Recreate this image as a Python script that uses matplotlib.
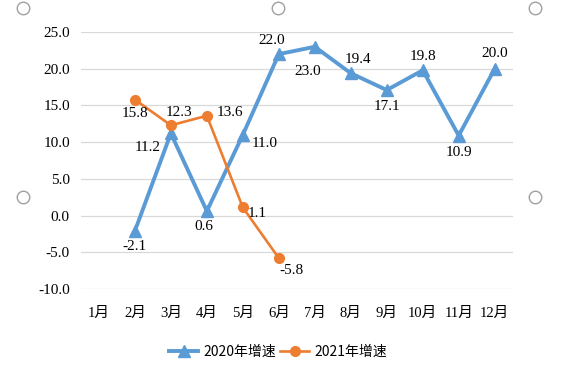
import numpy as np
import matplotlib.pyplot as plt
from matplotlib.lines import Line2D

months = ['1月', '2月', '3月', '4月', '5月', '6月', '7月', '8月', '9月', '10月', '11月', '12月']
growth_2020 = [np.nan, -2.1, 11.2, 0.6, 11.0, 22.0, 23.0, 19.4, 17.1, 19.8, 10.9, 20.0]
growth_2021 = [np.nan, 15.8, 12.3, 13.6, 1.1, -5.8, np.nan, np.nan, np.nan, np.nan, np.nan, np.nan]
yticks = [-10, -5, 0, 5, 10, 15, 20, 25]

# label offsets in points (dx, dy) per point
off_2020 = [None, (0, -11), (-17, -10), (-2, -11), (16, -6), (-5, 10), (-5, -18), (5, 10), (0, -12), (0, 10), (0, -12), (0, 11)]
off_2021 = [None, (0, -10), (6, 9), (17, 2), (10, -4), (9, -9)]

serif = ['Liberation Serif', 'Noto Sans CJK SC']
blue = '#5B9BD5'
orange = '#ED7D31'

fig = plt.figure(figsize=(5.78, 3.69), dpi=100)
ax = fig.add_axes([0.140, 0.217, 0.747, 0.696])
x = np.arange(len(months))

ax.plot(x, growth_2020, color=blue, lw=2.8, marker='^', ms=8.5, label='2020年增速', zorder=3)
ax.plot(x, growth_2021, color=orange, lw=1.9, marker='o', ms=7, label='2021年增速', zorder=4)

for i, v in enumerate(growth_2020):
    if off_2020[i] is not None:
        ax.annotate(f'{v:.1f}', (i, v), xytext=off_2020[i], textcoords='offset points',
                    ha='center', va='center', fontsize=11, family=serif, zorder=5)
for i, v in enumerate(growth_2021):
    if i < len(off_2021) and off_2021[i] is not None:
        ax.annotate(f'{v:.1f}', (i, v), xytext=off_2021[i], textcoords='offset points',
                    ha='center', va='center', fontsize=11, family=serif, zorder=5)

ax.set_xlim(-0.5, 11.5)
ax.set_ylim(-10, 25)
ax.set_yticks(yticks)
ax.set_yticklabels([f'{t:.1f}' for t in yticks], family=serif, fontsize=11)
ax.set_xticks(x)
ax.set_xticklabels(months, family=serif, fontsize=10.5)
ax.grid(axis='y', color='#d9d9d9', lw=0.9)
ax.set_axisbelow(True)
for s in ax.spines.values():
    s.set_visible(False)
ax.tick_params(length=0, pad=8)
ax.tick_params(axis='x', pad=13)

leg = fig.legend(loc='center', bbox_to_anchor=(0.481, 0.046), ncol=2, frameon=False,
                 prop={'family': ['Liberation Sans Narrow', 'Noto Sans CJK SC'], 'size': 10},
                 handlelength=2.1, columnspacing=0.3, handletextpad=0.35)

# selection handles
for px, py in [(23, 8), (278, 8), (535, 8), (23, 197), (535, 197)]:
    fig.add_artist(Line2D([px / 578], [1 - py / 369], transform=fig.transFigure,
                          marker='o', ms=9, mfc='white', mec='#a0a0a0', mew=1.0, ls='none'))

fig.savefig('out.png', dpi=100)
